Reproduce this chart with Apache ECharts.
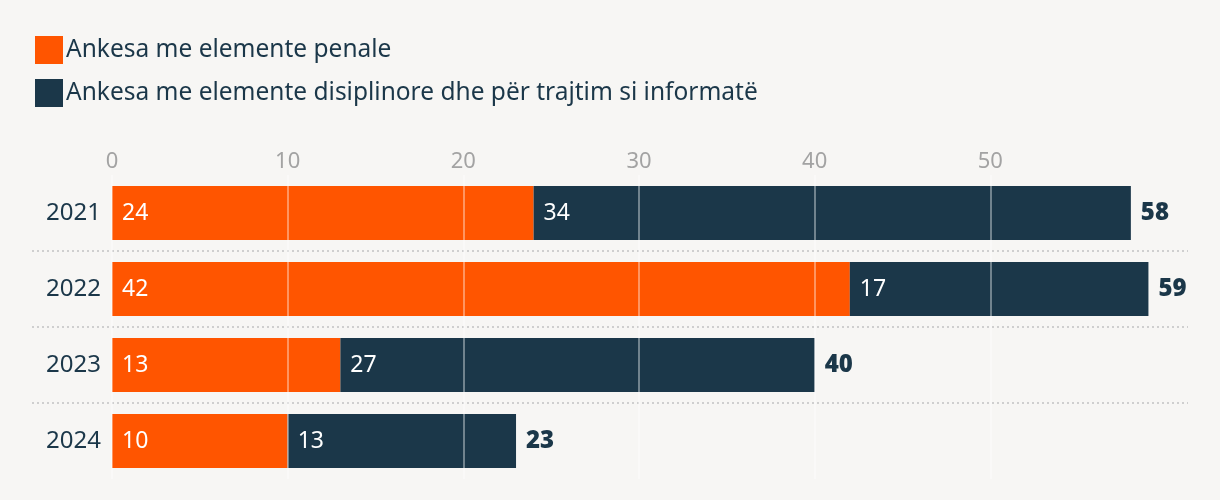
<!DOCTYPE html>
<html>
<head>
<meta charset="utf-8">
<script src="https://cdn.jsdelivr.net/npm/echarts@6/dist/echarts.min.js"></script>
<style>
html,body{margin:0;padding:0;background:#f7f6f4;}
#chart{width:1220px;height:500px;}
</style>
</head>
<body>
<div id="chart"></div>
<script>
const years = ['2021', '2022', '2023', '2024'];
const penale = [24, 42, 13, 10];
const disiplinore = [34, 17, 27, 13];
const seriesNames = ['Ankesa me elemente penale', 'Ankesa me elemente disiplinore dhe për trajtim si informatë'];
const totals = years.map((y, i) => penale[i] + disiplinore[i]);

const NAVY = '#1b3749';
const ORANGE = '#ff5500';
const FONT = 'Noto Sans';

const chart = echarts.init(document.getElementById('chart'), null, {renderer: 'canvas'});
chart.setOption({
  backgroundColor: '#f7f6f4',
  textStyle: {fontFamily: FONT},
  animation: false,
  legend: {
    orient: 'vertical',
    left: 30, top: 31,
    itemWidth: 28, itemHeight: 28, itemGap: 15,
    icon: 'rect',
    textStyle: {fontSize: 24.5, lineHeight: 28, color: NAVY, fontFamily: FONT, padding: [0, 0, 0, -2]},
    data: seriesNames
  },
  grid: [
    {left: 112, right: 54, top: 175, bottom: 21},
    {left: 32, right: 32, top: 175, bottom: 21}
  ],
  xAxis: [
    {
      type: 'value', gridIndex: 0, position: 'top', min: 0, max: 60, interval: 10, z: 3,
      axisLine: {show: false}, axisTick: {show: false},
      axisLabel: {color: '#a3a3a3', fontSize: 22, margin: 2, showMaxLabel: false, fontFamily: FONT},
      splitLine: {show: true, showMaxLine: false, lineStyle: {color: 'rgba(255,255,255,0.38)', width: 2}}
    },
    {type: 'value', gridIndex: 1, min: 0, max: 1, show: false}
  ],
  yAxis: [
    {
      type: 'category', gridIndex: 0, data: years, inverse: true,
      axisLine: {show: false}, axisTick: {show: false},
      axisLabel: {color: NAVY, fontSize: 24, margin: 11, fontFamily: FONT},
      splitLine: {show: false}
    },
    {
      type: 'category', gridIndex: 1, data: years, inverse: true,
      axisLine: {show: false}, axisTick: {show: false}, axisLabel: {show: false},
      splitLine: {show: true, showMinLine: false, showMaxLine: false,
        lineStyle: {type: [2, 3], color: '#cfcfcf', width: 2}}
    }
  ],
  series: [
    {
      name: seriesNames[0], type: 'bar', stack: 't', xAxisIndex: 0, yAxisIndex: 0,
      data: penale, barWidth: 54, itemStyle: {color: ORANGE},
      label: {show: true, position: 'insideLeft', distance: 10, color: '#fff', fontSize: 23, fontFamily: FONT}
    },
    {
      name: seriesNames[1], type: 'bar', stack: 't', xAxisIndex: 0, yAxisIndex: 0,
      data: disiplinore, barWidth: 54, itemStyle: {color: NAVY},
      label: {show: true, position: 'insideLeft', distance: 10, color: '#fff', fontSize: 23, fontFamily: FONT}
    },
    {
      name: 'total', type: 'scatter', xAxisIndex: 0, yAxisIndex: 0,
      data: totals.map((t, i) => [t, i]), symbolSize: 0, silent: true,
      itemStyle: {opacity: 1, color: NAVY},
      label: {show: true, position: 'right', distance: 10, color: NAVY, fontSize: 24, fontWeight: 900, fontFamily: FONT,
        formatter: p => p.value[0]}
    }
  ]
});
</script>
</body>
</html>
